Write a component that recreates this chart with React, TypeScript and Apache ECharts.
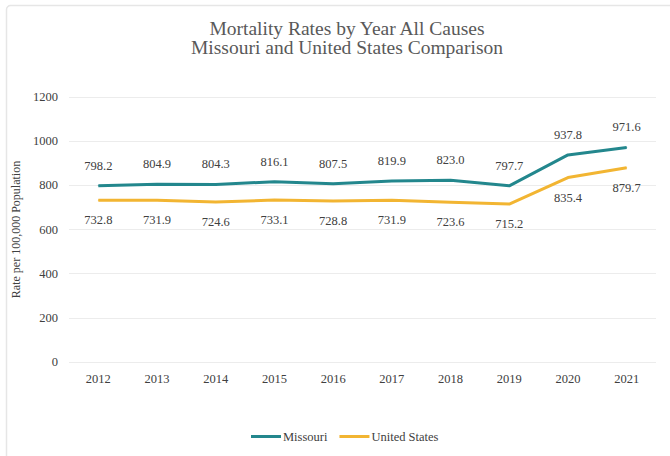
import React, { useEffect, useRef } from "react";
import * as echarts from "echarts";

const years = ["2012", "2013", "2014", "2015", "2016", "2017", "2018", "2019", "2020", "2021"];
const missouri = [798.2, 804.9, 804.3, 816.1, 807.5, 819.9, 823.0, 797.7, 937.8, 971.6];
const unitedStates = [732.8, 731.9, 724.6, 733.1, 728.8, 731.9, 723.6, 715.2, 835.4, 879.7];

const FONT = "Liberation Serif, Times New Roman, serif";

export default function App() {
  const ref = useRef<HTMLDivElement>(null);
  useEffect(() => {
    if (!ref.current) return;
    const chart = echarts.init(ref.current, null, { renderer: "svg" });
    const labelFmt = (p: any) => Number(p.value).toFixed(1);
    chart.setOption({
      animation: false,
      backgroundColor: "#ffffff",
      textStyle: { fontFamily: FONT },
      title: {
        text: "Mortality Rates by Year All Causes\nMissouri and United States Comparison",
        left: 342,
        textAlign: "center",
        top: 14,
        textStyle: {
          fontFamily: FONT,
          fontWeight: "normal",
          fontSize: 19.5,
          color: "#595959",
          lineHeight: 19,
        },
      },
      graphic: [
        {
          type: "rect",
          shape: { x: 6.5, y: 5.5, width: 700, height: 500, r: 4 },
          style: { fill: "none", stroke: "#e6e6e6", lineWidth: 1.5 },
          silent: true,
        },
      ],
      legend: {
        bottom: 8,
        left: 246,
        itemWidth: 30,
        itemHeight: 3,
        itemGap: 12,
        icon: "rect",
        textStyle: { fontFamily: FONT, fontSize: 12.5, color: "#404040", padding: [0, 0, 0, -3] },
        data: ["Missouri", "United States"],
      },
      grid: { left: 69, right: 14, top: 97, bottom: 94 },
      xAxis: {
        type: "category",
        data: years,
        boundaryGap: true,
        axisLine: { show: false },
        axisTick: { show: false },
        axisLabel: { fontFamily: FONT, fontSize: 12.5, color: "#404040", margin: 10 },
      },
      yAxis: {
        type: "value",
        min: 0,
        max: 1200,
        interval: 200,
        name: "Rate per 100,000 Population",
        nameLocation: "middle",
        nameGap: 47,
        nameMoveOverlap: false,
        nameTextStyle: { fontFamily: FONT, fontSize: 12, color: "#404040" },
        axisLabel: {
          fontFamily: FONT,
          fontSize: 12.5,
          color: "#404040",
          margin: 11,
          formatter: (v: number) => String(v),
        },
        splitLine: { lineStyle: { color: "#ececec", width: 1 } },
      },
      series: [
        {
          name: "Missouri",
          type: "line",
          data: missouri,
          symbol: "circle",
          symbolSize: 1,
          showSymbol: true,
          color: "#23878d",
          itemStyle: { color: "#23878d" },
          lineStyle: { width: 3, color: "#23878d" },
          label: {
            show: true,
            position: "top",
            distance: 13,
            fontFamily: FONT,
            fontSize: 12.5,
            color: "#404040",
            formatter: labelFmt,
          },
          labelLayout: { hideOverlap: false },
        },
        {
          name: "United States",
          type: "line",
          data: unitedStates,
          symbol: "circle",
          symbolSize: 1,
          showSymbol: true,
          color: "#f2b532",
          itemStyle: { color: "#f2b532" },
          lineStyle: { width: 3, color: "#f2b532" },
          label: {
            show: true,
            position: "bottom",
            distance: 13,
            fontFamily: FONT,
            fontSize: 12.5,
            color: "#404040",
            formatter: labelFmt,
          },
          labelLayout: { hideOverlap: false },
        },
      ],
    });
    return () => chart.dispose();
  }, []);
  return (
    <div
      ref={ref}
      style={{ position: "fixed", left: 0, top: 0, width: 670, height: 456 }}
    />
  );
}
